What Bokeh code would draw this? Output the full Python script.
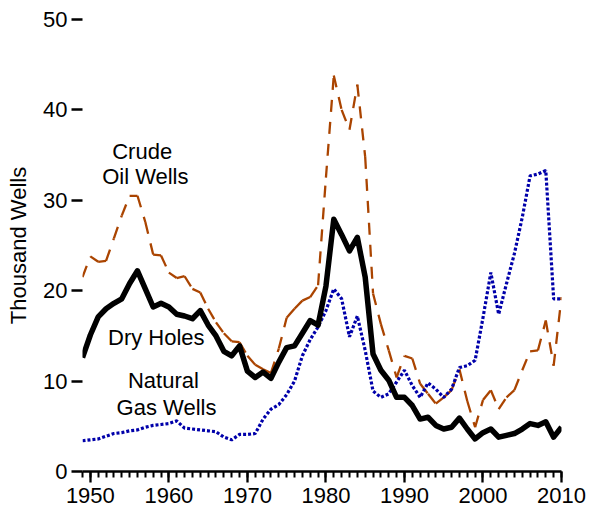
from bokeh.plotting import figure
from bokeh.models import SingleIntervalTicker, FixedTicker, Label, Range1d
from bokeh.embed import file_html
from bokeh.resources import INLINE

years = list(range(1949, 2011))

crude_oil = [21.5, 23.8, 23.2, 23.3, 25.8, 28.3, 30.5, 30.5, 27.6, 24.0,
             23.9, 22.0, 21.4, 21.6, 20.2, 19.8, 18.0, 16.5, 15.3, 14.4,
             14.3, 12.8, 11.8, 11.3, 10.9, 13.6, 17.0, 18.0, 18.9, 19.3,
             20.6, 32.5, 43.8, 40.0, 37.8, 42.8, 34.8, 19.7, 16.3, 13.4,
             10.4, 12.8, 12.5, 9.7, 8.6, 7.5, 8.2, 9.0, 11.3, 7.8,
             4.9, 7.9, 9.0, 6.9, 8.2, 9.0, 11.2, 13.3, 13.4, 16.7,
             11.7, 19.3]

dry_holes = [12.6, 15.1, 17.1, 18.0, 18.6, 19.1, 20.8, 22.2, 20.2, 18.2,
             18.6, 18.2, 17.4, 17.2, 16.9, 17.8, 16.2, 15.0, 13.3, 12.8,
             13.9, 11.1, 10.4, 11.0, 10.3, 12.1, 13.7, 13.9, 15.3, 16.7,
             16.2, 20.5, 27.9, 26.2, 24.4, 25.9, 21.5, 13.0, 11.2, 10.1,
             8.2, 8.2, 7.3, 5.8, 6.0, 5.1, 4.7, 4.9, 5.9, 4.7,
             3.6, 4.3, 4.7, 3.8, 4.0, 4.2, 4.7, 5.3, 5.1, 5.5,
             3.8, 4.9]

natural_gas = [3.4, 3.5, 3.6, 3.9, 4.2, 4.3, 4.5, 4.6, 4.9, 5.1,
               5.2, 5.3, 5.6, 4.8, 4.7, 4.6, 4.5, 4.4, 3.8, 3.5,
               4.1, 4.1, 4.2, 5.8, 6.9, 7.4, 8.5, 10.0, 12.8, 14.6,
               16.0, 17.8, 20.2, 19.1, 14.9, 17.2, 13.4, 8.9, 8.2, 8.6,
               9.9, 11.2, 9.5, 8.2, 9.8, 9.1, 8.2, 9.1, 11.5, 11.7,
               12.3, 17.0, 22.0, 17.4, 20.8, 24.1, 28.1, 32.7, 32.9, 33.3,
               19.1, 19.1]

y_ticks = [0, 10, 20, 30, 40, 50]

FONT = "Liberation Sans"
SIZE = "22px"

p = figure(width=590, height=509, output_backend="svg", toolbar_location=None,
           x_range=Range1d(1949, 2010), y_range=Range1d(0, 50),
           min_border_left=82, min_border_right=29, min_border_top=19,
           min_border_bottom=38)
p.outline_line_color = None
p.grid.visible = False

# Crude oil wells: dashed, pattern restarting at each yearly segment
p.segment(x0=years[:-1], y0=crude_oil[:-1], x1=years[1:], y1=crude_oil[1:],
          line_color="#AA4400", line_width=2.3, line_dash="12 10")
# Natural gas wells: dotted
p.line(years, natural_gas, line_color="#0000AA", line_width=3.2, line_dash="3 2")
# Dry holes: thick solid
p.line(years, dry_holes, line_color="black", line_width=5.5, line_join="round")

xa = p.xaxis[0]
xa.ticker = SingleIntervalTicker(interval=10, num_minor_ticks=10)
xa.axis_line_width = 2.3
xa.axis_line_color = "black"
xa.major_tick_line_width = 2.3
xa.minor_tick_line_width = 2
xa.major_tick_out = 11
xa.major_tick_in = 0
xa.minor_tick_out = 6
xa.minor_tick_in = 0
xa.major_label_text_font = FONT
xa.major_label_text_font_size = SIZE
xa.major_label_text_color = "black"
xa.major_label_standoff = 5

ya = p.yaxis[0]
ya.ticker = FixedTicker(ticks=y_ticks)
ya.axis_line_color = None
ya.minor_tick_line_color = None
ya.major_tick_out = 11
ya.major_tick_in = 0
ya.major_tick_line_width = 2.3
ya.major_label_text_font = FONT
ya.major_label_text_font_size = SIZE
ya.major_label_text_color = "black"
ya.major_label_standoff = 4
ya.axis_label = "Thousand Wells"
ya.axis_label_text_font = FONT
ya.axis_label_text_font_size = SIZE
ya.axis_label_text_font_style = "normal"
ya.axis_label_text_color = "black"
ya.axis_label_standoff = 9

for txt, x, y in [("Crude", 1956.6, 35.4), ("Oil Wells", 1957.0, 32.6),
                  ("Dry Holes", 1958.4, 14.8), ("Natural", 1959.3, 10.1),
                  ("Gas Wells", 1959.7, 7.1)]:
    p.add_layout(Label(x=x, y=y, text=txt, text_align="center", text_baseline="middle",
                       text_font=FONT, text_font_size=SIZE, text_color="black"))

open("out.html", "w").write(file_html(p, INLINE))
